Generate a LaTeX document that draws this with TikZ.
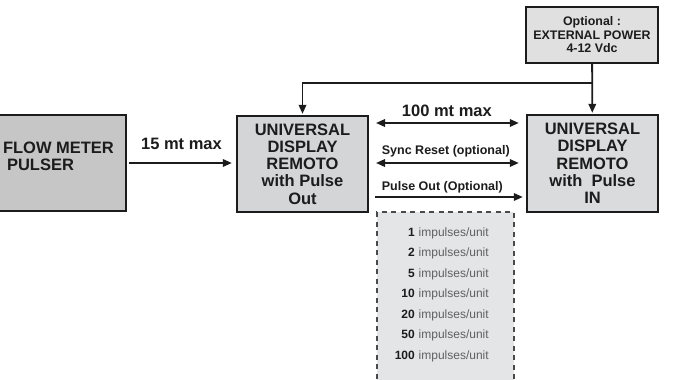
\documentclass[tikz,border=0pt]{standalone}
\usepackage{fontspec}
\setmainfont{Liberation Sans}
\usetikzlibrary{arrows.meta, positioning}

\definecolor{ink}{HTML}{1C1C1C}
\definecolor{flowgray}{HTML}{C6C6C6}
\definecolor{dispgray}{HTML}{D3D5D7}
\definecolor{powgray}{HTML}{E0E0E0}
\definecolor{listgray}{HTML}{E3E5E7}

\begin{document}
\begin{tikzpicture}[
    x=1pt, y=-1pt,
    >={Triangle[length=9pt, width=7.5pt]},
    box/.style={draw=ink, line width=2.4pt, inner sep=0pt, text=ink,
        font=\fontsize{16.5}{17.3}\selectfont\bfseries},
    arr/.style={draw=ink, ->, line width=1.8pt},
    dbl/.style={draw=ink, <->, line width=1.8pt},
    lbl/.style={text=ink, font=\fontsize{12.5}{14}\selectfont\bfseries, inner sep=1pt},
    biglbl/.style={text=ink, font=\fontsize{16.5}{18}\selectfont\bfseries, inner sep=1pt}
]
    \useasboundingbox (0,0) rectangle (691,380);

    % ==================== BOXES ====================
    \node[box, fill=flowgray, minimum width=129pt, minimum height=96pt] (flow) at (61.5,163) {};
    \node[box, draw=none, fill=none, align=left, anchor=west] (flowtxt)
          at ([xshift=6pt, yshift=7pt]flow.west) {FLOW METER\\\hspace{4pt}PULSER};
    \node[box, fill=dispgray, minimum width=131pt, minimum height=96pt, align=center]
          (disp1) at (302.5,164) {UNIVERSAL\\DISPLAY\\REMOTO\\with Pulse\\Out};
    \node[box, fill=dispgray!85!white, minimum width=131pt, minimum height=97pt, align=center]
          (disp2) at (592.5,163.5) {UNIVERSAL\\DISPLAY\\REMOTO\\with\ \ Pulse\\IN};
    \node[box, fill=powgray, minimum width=132pt, minimum height=56pt, align=center,
          font=\fontsize{12.4}{13.5}\selectfont\bfseries]
          (power) at (592,35) {Optional :\\EXTERNAL POWER\\4-12 Vdc};

    % Dashed list of pulse rates
    \node[draw=ink!80, fill=listgray, line width=1.8pt, dash pattern=on 5pt off 4.5pt,
          minimum width=137pt, minimum height=182pt] (list) at (445.5,303) {};
    \foreach \n [count=\i] in {1,2,5,10,20,50,100} {
        \node[anchor=base east, inner sep=0pt, text=ink,
              font=\fontsize{12}{14}\selectfont\bfseries] (num\i) at (415,215.8+20.5*\i) {\n};
        \node[anchor=base west, inner sep=0pt, text=ink!70,
              font=\fontsize{12}{14}\selectfont] at ([xshift=3.5pt]num\i.base east) {impulses/unit};
    }

    % ==================== CONNECTIONS ====================
    % Flow meter to first display
    \draw[arr, shorten <=2pt, shorten >=4pt] (flow.east |- 0,163) -- (disp1.west |- 0,163)
        node[biglbl, midway, above=11pt] {15 mt max};

    % External power feed
    \coordinate (jn) at (592,83);
    \draw[arr, shorten >=1pt] (power) -- (disp2);
    \draw[arr, shorten >=1pt] (jn) -| (disp1);

    % Links between the two displays
    \coordinate (l1) at (368,123);
    \coordinate (l2) at (368,163);
    \coordinate (l3) at (368,197);
    \draw[dbl, shorten <=8pt, shorten >=7pt] (l1) -- (l1 -| disp2.west)
        node[biglbl, midway, above=4pt] {100 mt max};
    \draw[dbl, shorten <=8pt, shorten >=7pt] (l2) -- (l2 -| disp2.west)
        node[lbl, pos=0, anchor=south west, xshift=12pt, yshift=4.5pt] {Sync Reset (optional)};
    \draw[arr, shorten <=7pt, shorten >=3pt] (l3) -- (l3 -| disp2.west)
        node[lbl, pos=0, anchor=south west, xshift=12pt, yshift=2.5pt] {Pulse Out (Optional)};
\end{tikzpicture}
\end{document}
